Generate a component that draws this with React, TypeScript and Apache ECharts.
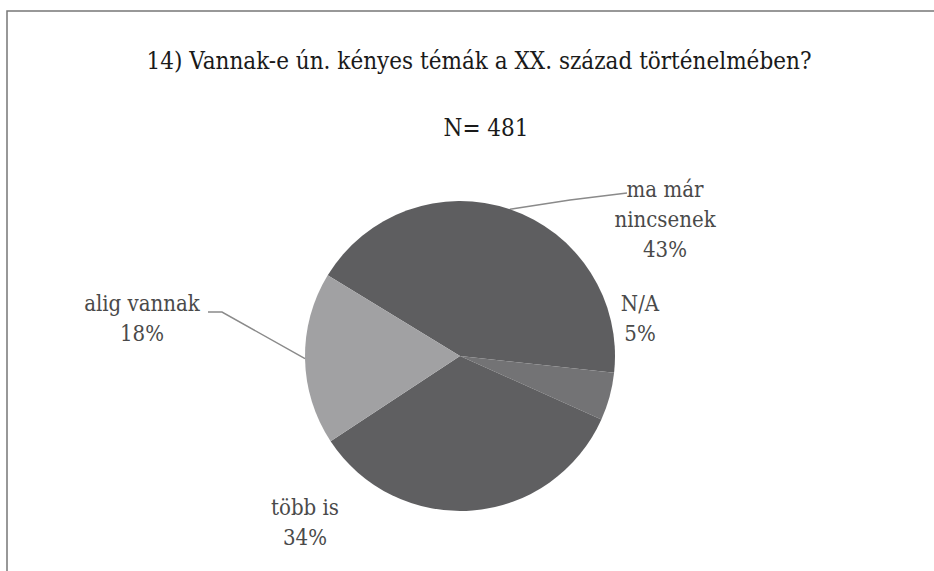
import React, { useEffect, useRef } from "react";
import * as echarts from "echarts";

const titleText = "14) Vannak-e ún. kényes témák a XX. század történelmében?";
const subText = "N= 481";
const categories = ["ma már\nnincsenek", "N/A", "több is", "alig vannak"];
const values = [43, 5, 34, 18];
const sliceColors = ["#5e5e60", "#737375", "#5f5f61", "#a1a1a3"];
const showLine = [true, false, false, true];

// label block centres (layout, not data)
const labelSpots: number[][] = [
  [665, 219],
  [640, 318],
  [305, 522],
  [142, 318],
];

export default function App() {
  const ref = useRef<HTMLDivElement>(null);
  useEffect(() => {
    document.body.style.margin = "0";
    const chart = echarts.init(ref.current!, undefined, { renderer: "svg" });
    const font = "DejaVu Serif Condensed";
    chart.setOption({
      animation: false,
      backgroundColor: "#ffffff",
      title: [
        {
          text: titleText,
          left: 474,
          textAlign: "center",
          top: 44,
          textStyle: { fontFamily: font, fontSize: 24, fontWeight: "normal", color: "#1a1a1a" },
        },
        {
          text: subText,
          left: 481,
          top: 111,
          textAlign: "center",
          textStyle: { fontFamily: font, fontSize: 24, fontWeight: "normal", color: "#1a1a1a" },
        },
      ],
      graphic: [
        {
          type: "polyline",
          shape: { points: [[7, 571], [7, 11], [934, 11]] },
          style: { stroke: "#777777", lineWidth: 1.5, fill: "none" },
          silent: true,
        },
      ],
      series: [
        {
          type: "pie",
          center: [460, 356],
          radius: 155,
          startAngle: 148.6,
          clockwise: true,
          avoidLabelOverlap: false,
          silent: true,
          itemStyle: { borderWidth: 0 },
          label: {
            show: true,
            position: "outside",
            fontFamily: font,
            fontSize: 22,
            lineHeight: 30,
            color: "#4a4a4a",
            align: "center",
            formatter: (p: any) => `${p.name}\n${Math.round(p.percent)}%`,
          },
          labelLine: {
            show: true,
            length: 20,
            length2: 20,
            lineStyle: { color: "#8a8a8a", width: 1.5 },
          },
          labelLayout: (params: any) => {
            const i = params.dataIndex;
            const spot = labelSpots[i];
            const res: any = { x: spot[0], y: spot[1], align: "center", verticalAlign: "middle" };
            const start = params.labelLinePoints ? params.labelLinePoints[0] : null;
            if (i === 0 && start) {
              res.labelLinePoints = [start, [570, 200], [627, 193]];
            } else if (i === 3 && start) {
              res.labelLinePoints = [start, [222, 312], [208, 312]];
            }
            return res;
          },
          data: categories.map((c, i) => ({
            name: c,
            value: values[i],
            itemStyle: { color: sliceColors[i] },
            labelLine: { show: showLine[i] },
          })),
        },
      ],
    });
    return () => chart.dispose();
  }, []);
  return <div ref={ref} style={{ width: 934, height: 571 }} />;
}
